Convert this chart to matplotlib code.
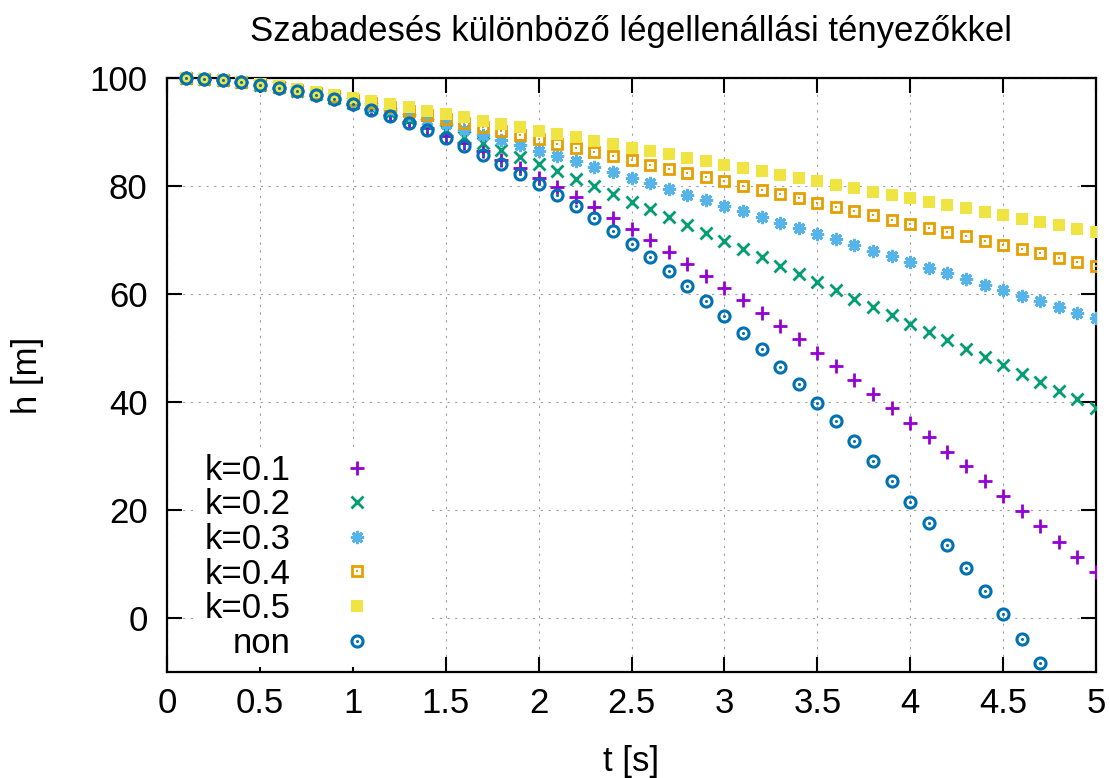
import matplotlib
matplotlib.use('Agg')
import matplotlib.pyplot as plt
from matplotlib.patches import Rectangle

plt.rcParams['font.family'] = ['Liberation Sans', 'DejaVu Sans']

t = [0.1, 0.2, 0.3, 0.4, 0.5, 0.6, 0.7, 0.8, 0.9, 1.0,
     1.1, 1.2, 1.3, 1.4, 1.5, 1.6, 1.7, 1.8, 1.9, 2.0,
     2.1, 2.2, 2.3, 2.4, 2.5, 2.6, 2.7, 2.8, 2.9, 3.0,
     3.1, 3.2, 3.3, 3.4, 3.5, 3.6, 3.7, 3.8, 3.9, 4.0,
     4.1, 4.2, 4.3, 4.4, 4.5, 4.6, 4.7, 4.8, 4.9, 5.0]

h_k01 = [99.95, 99.80, 99.56, 99.22, 98.78, 98.24, 97.62, 96.89, 96.08, 95.17,
         94.18, 93.10, 91.93, 90.68, 89.35, 87.94, 86.45, 84.88, 83.25, 81.54,
         79.77, 77.93, 76.03, 74.07, 72.04, 69.97, 67.84, 65.65, 63.42, 61.14,
         58.82, 56.45, 54.04, 51.59, 49.11, 46.59, 44.03, 41.45, 38.83, 36.19,
         33.51, 30.81, 28.09, 25.34, 22.57, 19.79, 16.98, 14.15, 11.30, 8.44]
h_k02 = [99.95, 99.80, 99.56, 99.22, 98.79, 98.27, 97.67, 96.98, 96.22, 95.39,
         94.48, 93.52, 92.49, 91.41, 90.29, 89.11, 87.90, 86.65, 85.36, 84.05,
         82.70, 81.34, 79.95, 78.54, 77.11, 75.67, 74.21, 72.74, 71.26, 69.77,
         68.27, 66.77, 65.25, 63.73, 62.21, 60.68, 59.14, 57.61, 56.06, 54.52,
         52.97, 51.43, 49.87, 48.32, 46.77, 45.21, 43.66, 42.10, 40.54, 38.98]
h_k03 = [99.95, 99.80, 99.56, 99.23, 98.82, 98.32, 97.75, 97.12, 96.43, 95.68,
         94.89, 94.07, 93.20, 92.31, 91.40, 90.46, 89.51, 88.54, 87.56, 86.56,
         85.56, 84.56, 83.54, 82.52, 81.50, 80.47, 79.44, 78.41, 77.38, 76.34,
         75.30, 74.27, 73.23, 72.19, 71.15, 70.10, 69.06, 68.02, 66.98, 65.93,
         64.89, 63.85, 62.80, 61.76, 60.72, 59.67, 58.63, 57.59, 56.54, 55.50]
h_k04 = [99.95, 99.81, 99.57, 99.25, 98.85, 98.38, 97.85, 97.28, 96.66, 96.01,
         95.33, 94.63, 93.92, 93.19, 92.44, 91.69, 90.93, 90.17, 89.40, 88.63,
         87.86, 87.08, 86.30, 85.52, 84.74, 83.96, 83.18, 82.40, 81.62, 80.84,
         80.06, 79.27, 78.49, 77.71, 76.93, 76.14, 75.36, 74.58, 73.79, 73.01,
         72.23, 71.45, 70.66, 69.88, 69.10, 68.31, 67.53, 66.75, 65.96, 65.18]
h_k05 = [99.95, 99.81, 99.57, 99.26, 98.88, 98.45, 97.96, 97.45, 96.90, 96.34,
         95.76, 95.16, 94.56, 93.95, 93.34, 92.72, 92.10, 91.48, 90.86, 90.24,
         89.61, 88.99, 88.36, 87.74, 87.11, 86.48, 85.86, 85.23, 84.61, 83.98,
         83.35, 82.73, 82.10, 81.47, 80.85, 80.22, 79.60, 78.97, 78.34, 77.72,
         77.09, 76.46, 75.84, 75.21, 74.58, 73.96, 73.33, 72.70, 72.08, 71.45]
# no drag, only the points inside the y range
h_non = [99.95, 99.80, 99.56, 99.22, 98.77, 98.23, 97.60, 96.86, 96.03, 95.10,
         94.07, 92.94, 91.71, 90.39, 88.96, 87.44, 85.82, 84.11, 82.29, 80.38,
         78.37, 76.26, 74.05, 71.75, 69.34, 66.84, 64.24, 61.54, 58.75, 55.86,
         52.86, 49.77, 46.58, 43.30, 39.91, 36.43, 32.85, 29.17, 25.39, 21.52,
         17.55, 13.48, 9.31, 5.04, 0.67, -3.79, -8.35]

labels = ['k=0.1', 'k=0.2', 'k=0.3', 'k=0.4', 'k=0.5', 'non']
xticks = [0, 0.5, 1, 1.5, 2, 2.5, 3, 3.5, 4, 4.5, 5]
xtick_labels = ['0', '0.5', '1', '1.5', '2', '2.5', '3', '3.5', '4', '4.5', '5']
yticks = [0, 20, 40, 60, 80, 100]

fs = 25
fig = plt.figure(figsize=(11.1, 7.78), dpi=100)
ax = fig.add_axes([0.1505, 0.1362, 0.8369, 0.7635])

kw = dict(linestyle='none', zorder=3)
p1, = ax.plot(t, h_k01, marker='+', ms=9.5, mew=2, color='#9400d3', **kw)
p2, = ax.plot(t, h_k02, marker='x', ms=8, mew=2, color='#009e73', **kw)
p3, = ax.plot(t, h_k03, marker=(8, 2, 0), ms=9.5, mew=2.2, color='#56b4e9', **kw)
p4, = ax.plot(t, h_k04, marker='s', ms=7.5, mew=2, mfc='none', color='#e69f00', **kw)
p4d, = ax.plot(t, h_k04, marker='s', ms=2, mew=0, color='#e69f00', **kw)
p5, = ax.plot(t, h_k05, marker='s', ms=8, mew=0, color='#f0e442', **kw)
p6, = ax.plot(t[:len(h_non)], h_non, marker='o', ms=8, mew=2.2, mfc='none', color='#0072b2', **kw)
p6d, = ax.plot(t[:len(h_non)], h_non, marker='o', ms=2.2, mew=0, color='#0072b2', **kw)

# markers may spill over the top border but are cut at the right one
clip = Rectangle((0, -0.05), 1, 1.2, transform=ax.transAxes)
for ln in [p1, p2, p3, p4, p4d, p5, p6, p6d]:
    ln.set_clip_path(clip)
    ln.set_clip_on(True)

ax.set_xlim(0, 5)
ax.set_ylim(-10, 100)
ax.set_xticks(xticks)
ax.set_xticklabels(xtick_labels)
ax.set_yticks(yticks)
ax.tick_params(direction='in', length=10.5, width=1.5, top=True, right=True,
               labelsize=fs, pad=11)
ax.tick_params(axis='y', pad=14)
for s in ax.spines.values():
    s.set_linewidth(1.6)
ax.grid(True, color='#a0a0a0', linewidth=0.8, linestyle=(0, (2, 5)))
ax.set_axisbelow(True)

leg = ax.legend([p1, p2, p3, (p4, p4d), p5, (p6, p6d)], labels,
                loc='lower left', bbox_to_anchor=(0.033, 0.009), markerfirst=False,
                fontsize=fs, frameon=True, fancybox=False, framealpha=1,
                edgecolor='none', handlelength=3.6, handletextpad=0.12,
                labelspacing=0.045, borderpad=0.2, borderaxespad=0)

fig.text(0.5689, 1 - 31 / 778, 'Szabadesés különböző légellenállási tényezőkkel',
         ha='center', va='center', fontsize=fs)
fig.text(0.5689, 1 - 761 / 778, 't [s]', ha='center', va='center', fontsize=fs)
fig.text(27 / 1110, 1 - 375 / 778, 'h [m]', ha='center', va='center',
         rotation=90, fontsize=fs)

fig.savefig('out.png', dpi=100)
plt.close(fig)
